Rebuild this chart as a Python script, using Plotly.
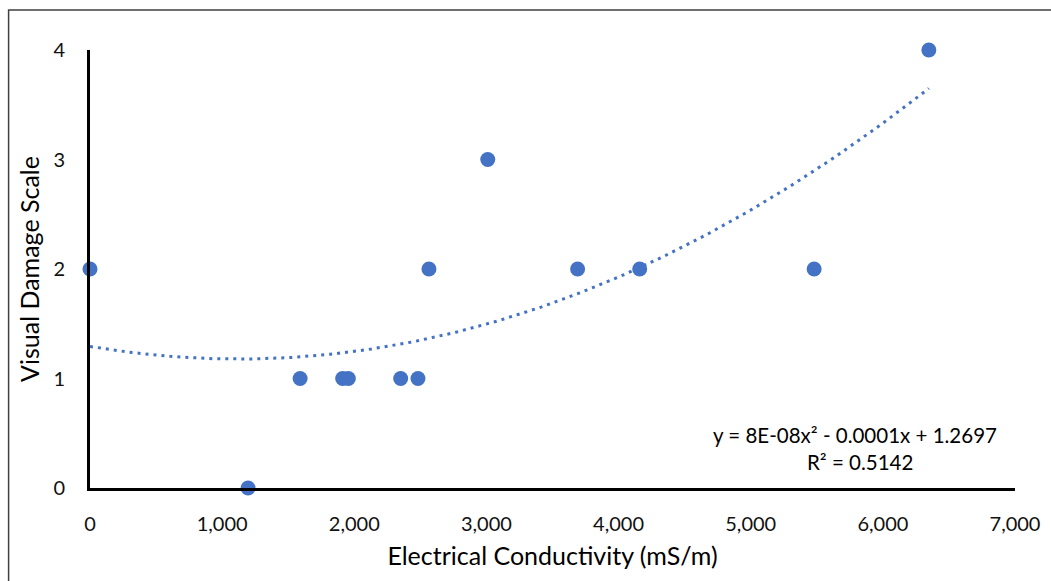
import numpy as np
import plotly.graph_objects as go

# Electrical conductivity (mS/m) vs. visual damage score
conductivity = [0, 1196, 1590, 1912, 1955, 2351, 2482, 2565, 3010, 3690, 4160, 5480, 6348]
damage = [2, 0, 1, 1, 1, 1, 1, 2, 3, 2, 2, 2, 4]

x_ticks = [0, 1000, 2000, 3000, 4000, 5000, 6000, 7000]
y_ticks = [0, 1, 2, 3, 4]

equation_text = "y = 8E-08x² - 0.0001x + 1.2697"
r2_text = "R² = 0.5142"

BLUE = "#4472C4"
FONT = "Lato"

# second-order polynomial trendline over the data range
coef = np.polyfit(conductivity, damage, 2)
xs = np.linspace(min(conductivity), max(conductivity), 200)
ys = np.polyval(coef, xs)

fig = go.Figure()
fig.add_trace(go.Scatter(
    x=xs, y=ys, mode="lines",
    line=dict(color=BLUE, width=3, dash="3px,5px"),
    hoverinfo="skip", showlegend=False,
))
fig.add_trace(go.Scatter(
    x=conductivity, y=damage, mode="markers",
    marker=dict(color=BLUE, size=15, line=dict(width=0)),
    cliponaxis=False, showlegend=False,
))

fig.update_layout(
    width=1051, height=581,
    margin=dict(l=90, r=36, t=50, b=93),
    paper_bgcolor="white", plot_bgcolor="white",
    font=dict(family=FONT, color="#000000", size=20),
    xaxis=dict(
        range=[0, 7000], tickvals=x_ticks,
        ticktext=[f"{v:,}" for v in x_ticks],
        showgrid=False, zeroline=False,
        showline=True, linecolor="black", linewidth=3,
        ticks="", ticklabelstandoff=16,
        title=dict(text="Electrical Conductivity (mS/m)", font=dict(size=25), standoff=14),
        tickfont=dict(size=20, color="#111111"),
    ),
    yaxis=dict(
        range=[0, 4], tickvals=y_ticks,
        showgrid=False, zeroline=False,
        showline=True, linecolor="black", linewidth=3,
        ticks="", ticklabelstandoff=18,
        title=dict(text="Visual Damage Scale", font=dict(size=25), standoff=7),
        tickfont=dict(size=20, color="#111111"),
    ),
    annotations=[
        dict(xref="x", yref="y", x=5789, y=0.484, text=equation_text,
             showarrow=False, font=dict(size=20.5), xanchor="center", yanchor="middle"),
        dict(xref="x", yref="y", x=5826, y=0.237, text=r2_text,
             showarrow=False, font=dict(size=20.5), xanchor="center", yanchor="middle"),
    ],
    shapes=[
        dict(type="rect", xref="paper", yref="paper",
             x0=-0.088, x1=1.1, y0=-0.3, y1=1.0913,
             line=dict(color="#404040", width=1.5), layer="below"),
    ],
)

fig.write_html("out.html")
